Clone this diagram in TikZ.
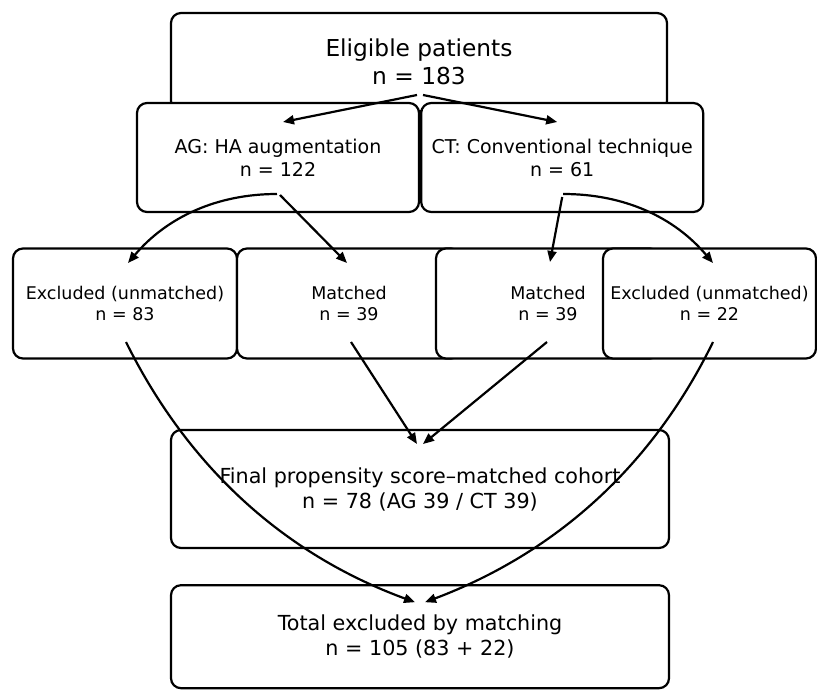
\documentclass[tikz,border=0pt]{standalone}
\usepackage{fontspec}
\setmainfont{DejaVu Sans}
\usepackage{tikz}
\usetikzlibrary{arrows.meta,positioning}

\begin{document}
\begin{tikzpicture}[x=1pt, y=-1pt, >={Triangle[length=11pt,width=9pt]}, line width=2.2pt]
  \tikzstyle{box} = [rectangle, rounded corners=10pt, draw, fill=white, align=center, inner sep=0pt]
  \tikzstyle{toplevel} = [box, font=\fontsize{23.3}{28}\selectfont]
  \tikzstyle{arm} = [box, font=\fontsize{19}{23}\selectfont, minimum width=282pt, minimum height=109pt]
  \tikzstyle{split} = [box, font=\fontsize{17.5}{21}\selectfont, minimum width=224pt, minimum height=110pt]
  \tikzstyle{result} = [box, font=\fontsize{20.7}{25}\selectfont, minimum width=498pt]

  \useasboundingbox (0,0) rectangle (817,690);

  \node[toplevel, minimum width=496pt, minimum height=98pt] (elig) at (419,62) {Eligible patients\\n = 183};

  % treatment arms
  \node[arm] (ag) at (278,157.5) {AG: HA augmentation\\n = 122};
  \node[arm] (ct) [right=0pt of ag] {CT: Conventional technique\\n = 61};

  % matching split
  \node[split] (exl) at (125,303.5) {Excluded (unmatched)\\n = 83};
  \node[split] (mtl) at (349,303.5) {Matched\\n = 39};
  \node[split] (mtr) at (548,303.5) {Matched\\n = 39};
  \node[split, minimum width=213pt] (exr) at (709.5,303.5) {Excluded (unmatched)\\n = 22};

  \node[result, minimum height=118pt] (fin) at (420,489) {Final propensity score–matched cohort\\n = 78 (AG 39 / CT 39)};
  \node[result, minimum height=103pt] (tot) [below=35pt of fin] {Total excluded by matching\\n = 105 (83 + 22)};

  \draw[->] ([shift={(-2,33)}]elig.center) -- ([shift={(5,-35.5)}]ag.center);
  \draw[->] ([shift={(4,33)}]elig.center) -- ([shift={(-5,-35.5)}]ct.center);

  \draw[->] ([shift={(-1,36.5)}]ag.center) .. controls +(-60,0) and +(39,-46) .. ([shift={(3,-40.5)}]exl.center);
  \draw[->] ([shift={(2,37.5)}]ag.center) -- ([shift={(-2,-40.5)}]mtl.center);
  \draw[->] ([shift={(0,39.5)}]ct.center) -- ([shift={(2,-41.5)}]mtr.center);
  \draw[->] ([shift={(1,36.5)}]ct.center) .. controls +(61,0) and +(-39,-46) .. ([shift={(3.5,-40.5)}]exr.center);

  % into the cohort and the excluded total
  \draw[->] ([shift={(2,38.5)}]mtl.center) -- ([shift={(-3,-45)}]fin.center);
  \draw[->] ([shift={(-1,38.5)}]mtr.center) -- ([shift={(3,-45)}]fin.center);
  \draw[->] ([shift={(1,38.5)}]exl.center) .. controls +(62,125) and +(-131,-48) .. ([shift={(-5,-34.5)}]tot.center);
  \draw[->] ([shift={(3.5,38.5)}]exr.center) .. controls +(-61,125) and +(130,-49) .. ([shift={(5,-34.5)}]tot.center);
\end{tikzpicture}
\end{document}
